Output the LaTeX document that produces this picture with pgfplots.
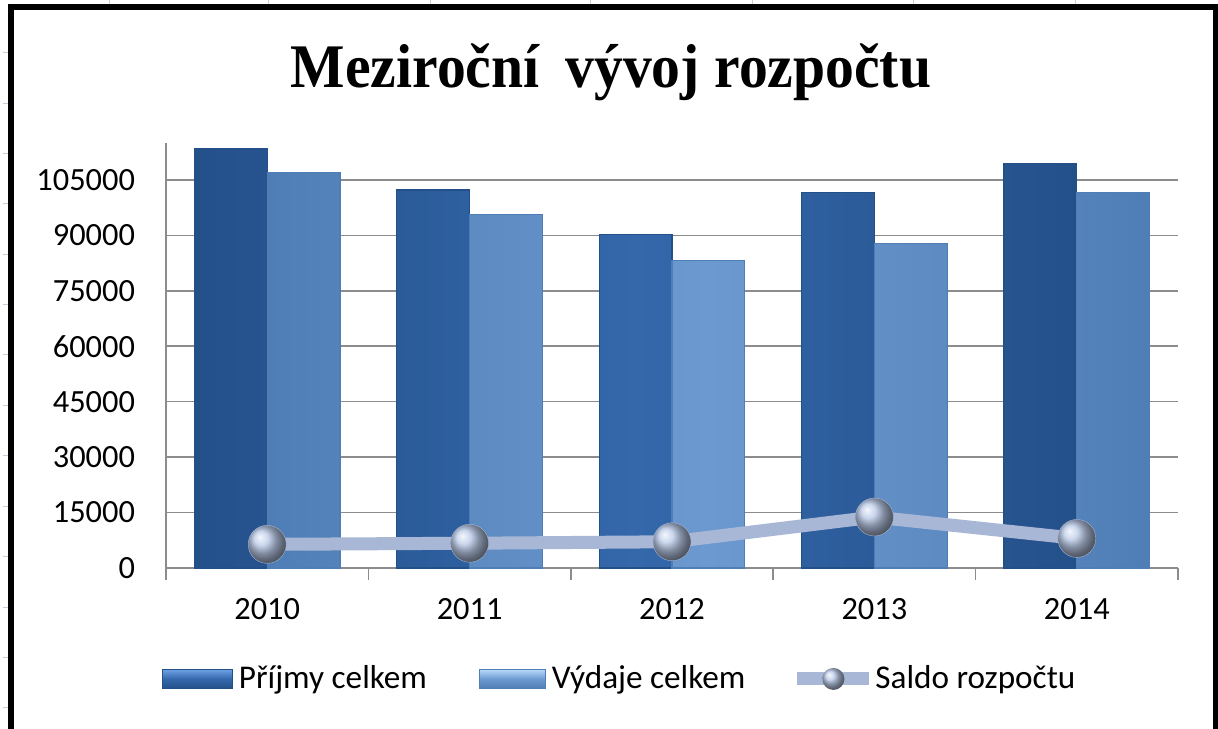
\documentclass[border=0pt]{standalone}
\usepackage{fontspec}
\setmainfont{Carlito}
\newfontfamily\titlefont{Liberation Serif}
\usepackage{pgfplots}
\pgfplotsset{compat=1.18}
\definecolor{prijmy}{HTML}{3468AB}
\definecolor{prijmyedge}{HTML}{24508A}
\definecolor{prijmytop}{HTML}{6FA0E4}
\definecolor{vydaje}{HTML}{6C9AD0}
\definecolor{vydajeedge}{HTML}{4F7DB5}
\definecolor{vydajetop}{HTML}{B8DAFC}
\definecolor{saldo}{HTML}{A7B7D5}
\definecolor{ballc}{HTML}{BACAE8}
\definecolor{gridc}{HTML}{8C8C8C}
\definecolor{cellline}{HTML}{C5CCDD}
\begin{document}
\begin{tikzpicture}
\path[use as bounding box] (0pt,0pt) rectangle (609pt,364pt);
\fill[white] (0pt,0pt) rectangle (609pt,364pt);
\foreach \x in {54.5,134,215,295,376,456.5,537.5} \draw[cellline, line width=0.5pt] (\x pt,364pt) -- (\x pt,361pt);
\foreach \y in {337.5,312.25,287,262,236.75,211.5,186.5,161.25,136,111,85.75,60.5,35.5,10.25} \draw[cellline, line width=0.5pt] (1.5pt,\y pt) -- (4pt,\y pt);
\draw[black, line width=3pt] (5.5pt,-3pt) -- (5.5pt,360.5pt) -- (607.9pt,360.5pt) -- (607.9pt,-3pt);
\node[anchor=base, inner sep=0pt] at (305.5pt,320pt) {\titlefont\bfseries\fontsize{31}{36}\selectfont\scalebox{0.93}[1]{Meziroční\hspace{0.45em}vývoj rozpočtu}};
\begin{axis}[
  at={(83pt,80pt)}, anchor=south west,
  scale only axis, width=506pt, height=212.5pt,
  xmin=-0.5, xmax=4.5, ymin=0, ymax=115000,
  axis x line*=bottom, axis y line*=left,
  axis line style={-, draw=gridc, line width=0.8pt},
  ytick={0,15000,30000,45000,60000,75000,90000,105000},
  ymajorgrids, grid style={draw=gridc, line width=0.8pt},
  xtick={-0.5,0.5,1.5,2.5,3.5,4.5},
  xticklabels={2010,2011,2012,2013,2014},
  x tick label as interval,
  tick align=outside, major tick length=6pt,
  xtick style={draw=gridc, line width=0.8pt},
  ytick style={draw=none},
  tick label style={font=\fontsize{16.2}{19}\selectfont, text=black},
  /pgf/number format/assume math mode=true,
  yticklabel style={/pgf/number format/fixed, /pgf/number format/1000 sep={}, xshift=-6pt},
  xticklabel style={yshift=-5.5pt},
  scaled y ticks=false,
  clip=false,
  legend columns=3,
  legend style={at={(-0.004,-0.261)}, anchor=west, draw=none, fill=none, inner sep=0pt, outer sep=0pt,
    font=\fontsize{16.6}{19}\selectfont,
    /tikz/every odd column/.append style={column sep=1pt},
    /tikz/every even column/.append style={column sep=24pt}},
  legend cell align=left,
]
\addplot[ybar, bar width=0.36, bar shift=-0.18, draw=prijmyedge, line width=0.6pt,
  left color=prijmyedge, right color=prijmyedge, middle color=prijmy,
  legend image code/.code={\draw[draw=prijmyedge, line width=0.5pt, top color=prijmytop, bottom color=prijmyedge, middle color=prijmy] (0pt,-4.75pt) rectangle (35pt,4.75pt);}]
  coordinates {(0,113400) (1,102300) (2,90300) (3,101500) (4,109500)};
\addlegendentry{Příjmy celkem}
\addplot[ybar, bar width=0.36, bar shift=0.18, draw=vydajeedge, line width=0.6pt,
  left color=vydajeedge, right color=vydajeedge, middle color=vydaje,
  legend image code/.code={\draw[draw=vydajeedge, line width=0.5pt, top color=vydajetop, bottom color=vydajeedge, middle color=vydaje] (0pt,-4.75pt) rectangle (33pt,4.75pt);}]
  coordinates {(0,107000) (1,95600) (2,83200) (3,87700) (4,101500)};
\addlegendentry{Výdaje celkem}
\addplot[saldo, line width=6.5pt, mark=ball, mark size=9.5pt, mark options={ball color=ballc, line width=0.2pt},
  legend image code/.code={\fill[saldo, draw=none, line width=0pt] (0pt,-3.25pt) rectangle (36pt,3.25pt); \shade[ball color=ballc, draw=none, line width=0pt] (18pt,0pt) circle (5.5pt);}]
  coordinates {(0,6400) (1,6700) (2,7100) (3,13800) (4,8000)};
\addlegendentry{Saldo rozpočtu}
\end{axis}
\end{tikzpicture}
\end{document}
